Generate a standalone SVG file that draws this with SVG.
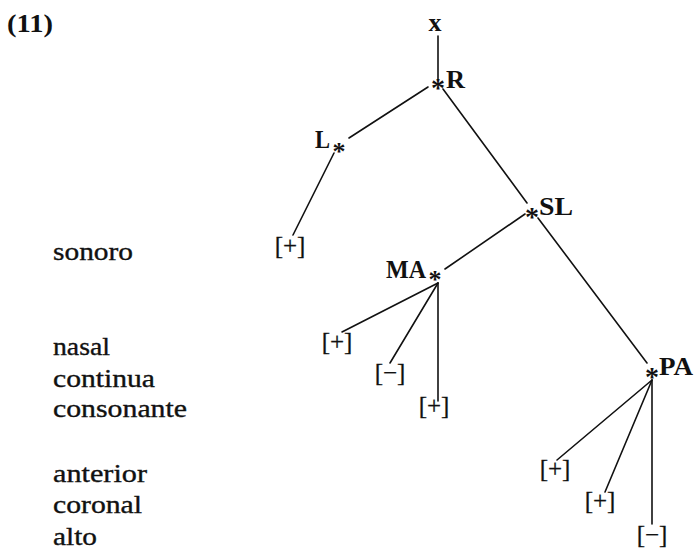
<svg xmlns="http://www.w3.org/2000/svg" width="694" height="550" viewBox="0 0 694 550">
  <rect width="694" height="550" fill="#ffffff"/>

  <g font-family="'Liberation Serif', serif" fill="#111">
    <!-- example number -->
    <text x="7" y="32" font-size="25" font-weight="bold" textLength="46" lengthAdjust="spacingAndGlyphs">(11)</text>

    <!-- feature names -->
    <g id="features" font-size="25" stroke="#111" stroke-width="0.35">
      <text x="53" y="260" textLength="80" lengthAdjust="spacingAndGlyphs">sonoro</text>
      <text x="53" y="355" textLength="57" lengthAdjust="spacingAndGlyphs">nasal</text>
      <text x="53" y="387" textLength="102" lengthAdjust="spacingAndGlyphs">continua</text>
      <text x="53" y="417" textLength="134" lengthAdjust="spacingAndGlyphs">consonante</text>
      <text x="53" y="482" textLength="94" lengthAdjust="spacingAndGlyphs">anterior</text>
      <text x="53" y="513" textLength="89" lengthAdjust="spacingAndGlyphs">coronal</text>
      <text x="53" y="545" textLength="44" lengthAdjust="spacingAndGlyphs">alto</text>
    </g>

    <!-- tree branches -->
    <g id="connectors" stroke="#111" stroke-width="1.6" stroke-linecap="round">
      <line x1="438" y1="36" x2="438" y2="79"/>
      <line x1="428" y1="87" x2="349" y2="138"/>
      <line x1="443" y1="89" x2="527" y2="203"/>
      <line x1="334" y1="153" x2="293" y2="235"/>
      <line x1="525" y1="214" x2="445" y2="269"/>
      <line x1="538" y1="218" x2="647" y2="363"/>
      <line x1="438" y1="283" x2="342" y2="332"/>
      <line x1="438" y1="283" x2="390" y2="363"/>
      <line x1="438" y1="283" x2="438" y2="401"/>
      <line x1="652" y1="380" x2="557" y2="460"/>
      <line x1="652" y1="380" x2="605" y2="492"/>
      <line x1="652" y1="380" x2="652" y2="524"/>
    </g>

    <!-- nodes: bold labels, asterisks mark the heads -->
    <g font-size="26" font-weight="bold">
      <g id="node-x">
        <text x="435" y="31" text-anchor="middle">x</text>
      </g>
      <g id="node-R">
        <text x="438" y="97" font-size="28" text-anchor="middle">*</text>
        <text x="446" y="88" textLength="19" lengthAdjust="spacingAndGlyphs">R</text>
      </g>
      <g id="node-L">
        <text x="315" y="148" textLength="15" lengthAdjust="spacingAndGlyphs">L</text>
        <text x="339" y="160" font-size="26" text-anchor="middle">*</text>
      </g>
      <g id="node-SL">
        <text x="532" y="226" font-size="28" text-anchor="middle">*</text>
        <text x="539" y="215" textLength="34" lengthAdjust="spacingAndGlyphs">SL</text>
      </g>
      <g id="node-MA">
        <text x="386" y="278" textLength="40" lengthAdjust="spacingAndGlyphs">MA</text>
        <text x="435" y="288" font-size="26" text-anchor="middle">*</text>
      </g>
      <g id="node-PA">
        <text x="652" y="386" font-size="28" text-anchor="middle">*</text>
        <text x="659" y="375" textLength="34" lengthAdjust="spacingAndGlyphs">PA</text>
      </g>
    </g>

    <!-- feature values -->
    <g font-size="25" text-anchor="middle" stroke="#111" stroke-width="0.3">
      <g id="val-sonoro"><text x="290" y="254">[+]</text></g>
      <g id="val-nasal"><text x="337" y="350">[+]</text></g>
      <g id="val-continua"><text x="390" y="381">[−]</text></g>
      <g id="val-consonante"><text x="434" y="414">[+]</text></g>
      <g id="val-anterior"><text x="555" y="477">[+]</text></g>
      <g id="val-coronal"><text x="600" y="509">[+]</text></g>
      <g id="val-alto"><text x="652" y="543">[−]</text></g>
    </g>
  </g>
</svg>
